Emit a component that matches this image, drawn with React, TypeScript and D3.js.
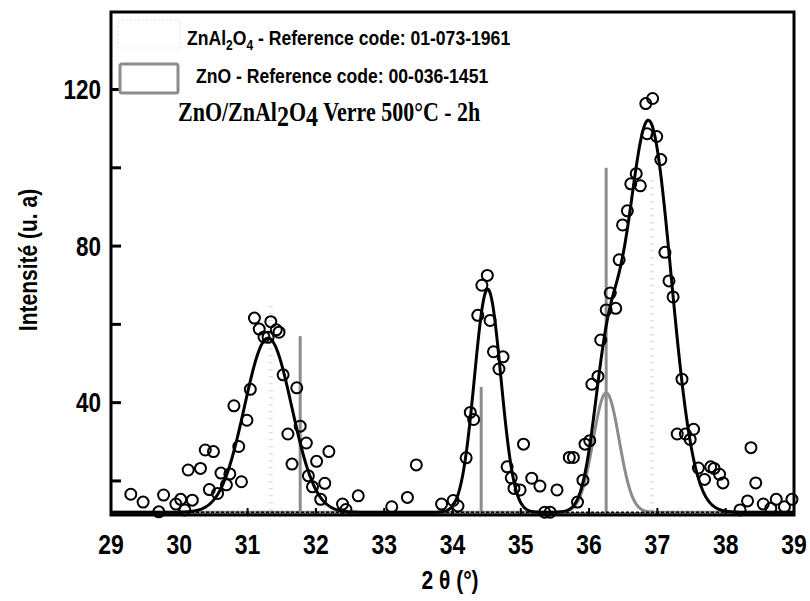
import React from 'react';
import * as d3 from 'd3';

// Observed points (2θ, intensity)
const obsX = [29.29, 29.47, 29.70, 29.77, 29.95, 30.02, 30.08, 30.19, 30.13, 30.31, 30.38, 30.50, 30.44, 30.56, 30.61, 30.74, 30.69, 30.91, 30.87, 30.80, 30.99, 31.04, 31.10, 31.17, 31.24, 31.30, 31.34, 31.42, 31.46, 31.52, 31.72, 31.59, 31.65, 31.77, 31.86, 31.89, 32.01, 31.95, 32.13, 32.19, 32.07, 32.39, 32.44, 32.62,
  33.11, 33.34, 33.47, 33.84, 34.01, 34.08, 34.20, 34.26, 34.31, 34.37, 34.43, 34.51, 34.55, 34.60, 34.74, 34.68, 35.04, 34.80, 34.86, 34.90, 34.99, 35.16, 35.28, 35.35, 35.43, 35.53,
  35.71, 35.77, 35.83, 35.91, 35.94, 36.01, 36.04, 36.13, 36.17, 36.25, 36.39, 36.31, 36.44, 36.49, 36.56, 36.69, 36.61, 36.75, 36.85, 36.99, 36.83, 36.93, 37.05, 37.11, 37.17, 37.23, 37.36, 37.29, 37.41, 37.48, 37.53, 37.60, 37.69, 37.78, 37.83, 37.91, 37.96, 38.37, 38.44, 38.32, 38.21, 38.55, 38.74, 38.86, 38.97, 38.66];
const obsY = [16.6, 14.6, 12.1, 16.4, 14.1, 15.3, 12.6, 15.1, 22.8, 23.2, 27.9, 27.5, 17.8, 16.8, 22.0, 21.8, 19.0, 19.8, 28.8, 39.2, 35.5, 43.4, 61.6, 58.8, 56.8, 56.7, 60.7, 58.6, 58.0, 47.1, 43.8, 32.0, 24.3, 34.0, 29.7, 21.3, 25.0, 18.5, 19.4, 27.5, 15.3, 14.1, 12.7, 16.2,
  13.4, 15.8, 24.1, 14.1, 15.0, 13.6, 25.9, 37.5, 35.7, 62.3, 70.0, 72.5, 61.0, 53.0, 51.7, 48.6, 29.4, 23.6, 20.8, 18.1, 17.7, 20.7, 18.7, 12.0, 12.0, 17.7,
  26.0, 26.0, 14.6, 20.2, 29.4, 30.3, 44.7, 46.7, 56.0, 63.7, 64.1, 68.0, 76.5, 85.4, 89.0, 98.5, 95.9, 95.4, 108.7, 108.0, 116.4, 117.7, 102.1, 78.4, 71.1, 67.0, 46.0, 32.0, 32.0, 30.6, 33.2, 23.3, 20.4, 23.6, 23.2, 21.7, 19.5, 28.5, 19.5, 14.9, 12.6, 14.1, 15.3, 13.4, 15.3, 13.0];

// Gaussian fit components
const fitCenters = [31.30, 34.515, 36.87, 36.25];
const fitAmps = [44.5, 57, 100, 30.5];
const fitSigmas = [0.346, 0.193, 0.33, 0.19];
const fitBaseline = 12;
const znoComponentIndex = 3;

// Reference patterns
const znoPos = [31.77, 34.42, 36.25];
const znoInt = [57, 44, 100];
const znal2o4Pos = [31.34, 36.92];
const znal2o4Int = [66, 98];

const xTicks = [29, 30, 31, 32, 33, 34, 35, 36, 37, 38, 39];
const yTicks = [20, 40, 60, 80, 100, 120];
const yLabels = [40, 80, 120];

const SY = 1.2; // vertical stretch of the lettering

export default function App() {
  const W = 810, H = 601;
  const L = 111, R = 794, T = 12, B = 515;
  const x = d3.scaleLinear().domain([29, 39]).range([L, R]);
  const y = d3.scaleLinear().domain([11.3, 139.8]).range([B, T]);
  const g = (t: number, i: number) => fitAmps[i] * Math.exp(-((t - fitCenters[i]) ** 2) / (2 * fitSigmas[i] ** 2));
  const grid = d3.range(29, 39.0001, 0.01);
  const line = d3.line<[number, number]>().x(d => x(d[0])).y(d => y(d[1]));
  const total: [number, number][] = grid.map(t => [t, fitBaseline + fitCenters.reduce((s, _, i) => s + g(t, i), 0)]);
  const zno: [number, number][] = grid.map(t => [t, fitBaseline + g(t, znoComponentIndex)]);
  const arial = 'Arial, "Liberation Sans", Helvetica, sans-serif';
  const times = '"Times New Roman", "Liberation Serif", serif';
  const tr = (px: number, py: number) => `translate(${px},${py}) scale(1,${SY})`;
  return (
    <svg width={W} height={H} style={{ position: 'absolute', left: 0, top: 0, background: '#fff' }}>
      <defs>
        <clipPath id="plot"><rect x={L} y={T} width={R - L} height={B - T} /></clipPath>
      </defs>
      <rect x={0} y={0} width={W} height={H} fill="#fff" />
      <g clipPath="url(#plot)">
        <line x1={L} x2={R} y1={B - 1.5} y2={B - 1.5} stroke="#888" strokeWidth={3} />
        {znal2o4Pos.map((p, i) => (
          <line key={'a' + i} x1={x(p)} x2={x(p)} y1={y(0)} y2={y(znal2o4Int[i])} stroke="#d4d4d4" strokeWidth={4} strokeDasharray="1 6" />
        ))}
        {znoPos.map((p, i) => (
          <line key={'z' + i} x1={x(p)} x2={x(p)} y1={y(0)} y2={y(znoInt[i])} stroke="#8c8c8c" strokeWidth={3} />
        ))}
        <path d={line(zno) || ''} fill="none" stroke="#8c8c8c" strokeWidth={3} />
        <line x1={L} x2={R} y1={y(fitBaseline)} y2={y(fitBaseline)} stroke="#000" strokeWidth={1.5} strokeDasharray="3 2" />
        <path d={line(total) || ''} fill="none" stroke="#000" strokeWidth={3} />
      </g>
      {obsX.map((v, i) => (
        <circle key={'o' + i} cx={x(v)} cy={y(obsY[i])} r={5.5} fill="none" stroke="#000" strokeWidth={2} />
      ))}
      {/* frame */}
      <rect x={L} y={T} width={R - L} height={B - T} fill="none" stroke="#000" strokeWidth={3} />
      {xTicks.map(t => (
        <line key={'xt' + t} x1={x(t)} x2={x(t)} y1={B} y2={B - 7} stroke="#000" strokeWidth={2} />
      ))}
      {yTicks.map(t => (
        <line key={'yt' + t} x1={L} x2={L + 10} y1={y(t)} y2={y(t)} stroke="#000" strokeWidth={3} />
      ))}
      {xTicks.map(t => (
        <text key={'xl' + t} transform={tr(x(t), 554)} textAnchor="middle" fontFamily={arial} fontWeight="bold" fontSize={23}>{t}</text>
      ))}
      {yLabels.map(t => (
        <text key={'yl' + t} transform={tr(L - 10, y(t) + 9.5)} textAnchor="end" fontFamily={arial} fontWeight="bold" fontSize={22.5}>{t}</text>
      ))}
      <text transform={tr(450, 589)} textAnchor="middle" fontFamily={arial} fontWeight="bold" fontSize={21}>2 θ (°)</text>
      <text transform={`translate(37,260) rotate(-90) scale(1,${SY})`} textAnchor="middle" fontFamily={arial} fontWeight="bold" fontSize={21}>Intensité (u. a)</text>
      {/* legend */}
      <rect x={118} y={20} width={62} height={28} fill="none" stroke="#d0d0d0" strokeWidth={1} strokeDasharray="1 3" />
      <rect x={120} y={64} width={58} height={29} rx={2} fill="none" stroke="#8c8c8c" strokeWidth={3} />
      <text transform={tr(187, 45)} fontFamily={arial} fontWeight="bold" fontSize={17.6}>
        ZnAl<tspan fontSize={12} dy={4}>2</tspan><tspan dy={-4}>O</tspan><tspan fontSize={12} dy={4}>4</tspan><tspan dy={-4}> - Reference code: 01-073-1961</tspan>
      </text>
      <text transform={tr(196, 83)} fontFamily={arial} fontWeight="bold" fontSize={17.6}>ZnO - Reference code: 00-036-1451</text>
      <text transform={tr(178, 121)} fontFamily={times} fontWeight="bold" fontSize={22}>
        ZnO/ZnAl<tspan fontSize={24} dy={4}>2</tspan><tspan dy={-4}>O</tspan><tspan fontSize={24} dy={4}>4</tspan><tspan dy={-4}> Verre 500°C - 2h</tspan>
      </text>
    </svg>
  );
}
